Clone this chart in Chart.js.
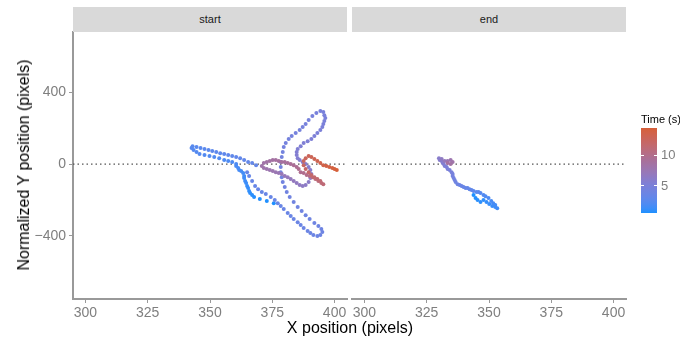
<!DOCTYPE html>
<html>
<head>
<meta charset="utf-8">
<script src="https://cdn.jsdelivr.net/npm/chart.js@4"></script>
<style>
body { margin: 0; background: #fff; font-family: "Liberation Sans", Arial, sans-serif; }
#wrap { position: relative; width: 680px; height: 341px; overflow: hidden; background: #fff; }
canvas { position: absolute; left: 0; top: 0; }
.strip { position: absolute; top: 7px; height: 25px; line-height: 25px; background: #d9d9d9; color: #1a1a1a; font-size: 11px; text-align: center; }
.title { position: absolute; color: #000; font-size: 16px; white-space: nowrap; }
.legtxt { position: absolute; font-size: 13px; color: #7f7f7f; }
</style>
</head>
<body>
<div id="wrap">
  <canvas id="cStart" width="680" height="341"></canvas>
  <canvas id="cEnd" width="680" height="341"></canvas>
  <div class="strip" id="s0" style="left:73px;width:274px"></div>
  <div class="strip" id="s1" style="left:352px;width:274px"></div>
  <div class="title" style="left:0;width:700px;text-align:center;top:319px">X position (pixels)</div>
  <div class="title" style="left:24px;top:165px;transform:translate(-50%,-50%) rotate(-90deg)">Normalized Y position (pixels)</div>
  <div id="legend"></div>
</div>
<script>
const xTicks = [300, 325, 350, 375, 400];
const yTicks = [-400, 0, 400];
const timeTicks = [5, 10];
const panels = ['start', 'end'];

// start panel trajectory
const startX = [375.6, 372.8, 370.0, 367.7,
  366.9, 366.1, 365.7, 365.3, 364.9, 364.5, 364.1, 363.7, 363.7, 363.3, 362.5, 361.7, 361.3, 360.5,
  360.5, 358.9, 357.3, 355.7, 353.7, 351.7, 349.8, 347.8, 345.8, 344.6, 343.4, 342.6,
  343.0, 344.6, 346.2, 347.8, 349.4, 350.9, 352.5, 354.1, 355.7, 357.3, 358.9, 360.5, 362.1, 363.7, 365.3, 366.9, 368.5,
  364.9, 365.7, 366.9, 368.1, 369.3, 370.8, 372.4, 374.4, 376.0, 377.2, 378.4, 379.6, 381.2, 382.4, 383.6, 385.2, 386.4, 387.6, 389.2, 390.3, 391.5, 393.1, 394.3, 395.1,
  394.7, 393.5, 391.9, 390.0, 388.4, 386.8, 385.2, 383.6, 382.0, 380.8, 380.0, 379.2, 378.8, 378.4,
  378.4, 378.4, 378.8, 379.2, 379.6, 380.4, 381.6, 382.8, 384.4, 386.0, 387.2, 388.4, 389.6, 391.1, 392.7, 394.3,
  395.5, 395.9, 396.3, 395.9, 395.5, 395.1, 394.3, 393.1, 391.9, 390.7, 389.2, 387.6, 386.4, 385.2, 384.8, 384.8, 385.2, 386.0, 387.2, 388.4, 389.6, 390.3,
  390.7, 390.3, 389.6, 388.4, 387.2, 386.0, 384.8, 383.6, 382.4, 381.2, 380.0, 378.8, 377.6, 376.4, 375.2, 374.0, 372.8, 371.6, 370.8, 371.6, 372.8, 374.0, 375.2, 376.4, 377.6, 378.8, 380.0, 381.2, 382.4, 383.6, 384.8, 385.6, 386.4,
  387.6, 388.8, 390.0, 391.1, 392.3, 393.5, 394.7, 395.5,
  394.3, 393.1, 391.9, 390.7, 389.6, 388.4, 387.6, 387.6, 388.4, 389.6, 390.7, 391.9, 393.1, 394.3, 395.5, 396.7, 397.9, 399.1, 400.0, 400.9];
const startY = [-218, -206, -195, -184,
  -173, -162, -151, -134, -123, -106, -95, -78, -67, -50, -39, -33, -22, -11,
  0, 11, 17, 22, 33, 39, 45, 50, 56, 67, 78, 89,
  100, 95, 89, 84, 78, 73, 67, 61, 56, 50, 45, 39, 33, 22, 11, 6, -6,
  -45, -67, -95, -123, -140, -156, -167, -184, -201, -218, -234, -251, -273, -290, -307, -324, -340, -357, -374, -385, -396, -402, -396, -379,
  -363, -346, -329, -307, -285, -262, -240, -212, -184, -156, -128, -100, -73, -45,
  -17, 11, 39, 67, 95, 117, 140, 156, 173, 190, 207, 223, 246, 268, 285, 296,
  290, 273, 257, 240, 223, 207, 190, 173, 156, 140, 128, 117, 100, 84, 67, 50, 33, 22, 11, 0, -17, -33,
  -56, -78, -100, -117, -123, -117, -106, -95, -84, -73, -67, -56, -50, -45, -39, -33, -28, -22, -11, 6, 11, 17, 22, 22, 17, 11, 11, 6, 0, -6, -17, -28, -45,
  -50, -61, -67, -73, -84, -95, -106, -112,
  -95, -84, -73, -61, -45, -28, -6, 17, 33, 45, 39, 28, 17, 6, -6, -11, -17, -22, -28, -33];
const startT = [0.5, 0.55, 0.6, 0.65,
  0.7, 0.8, 0.9, 1.0, 1.1, 1.2, 1.3, 1.35, 1.4, 1.5, 1.55, 1.6, 1.7, 1.8,
  1.85, 1.9, 1.95, 2.0, 2.05, 2.1, 2.15, 2.2, 2.25, 2.3, 2.35, 2.4,
  2.45, 2.5, 2.55, 2.6, 2.65, 2.7, 2.75, 2.8, 2.85, 2.9, 2.95, 3.0, 3.05, 3.1, 3.15, 3.2, 3.25,
  3.3, 3.325, 3.35, 3.375, 3.4, 3.425, 3.45, 3.475, 3.5, 3.525, 3.55, 3.575, 3.6, 3.625, 3.65, 3.675, 3.7, 3.725, 3.75, 3.775, 3.8, 3.825, 3.85, 3.875,
  3.9, 3.93, 3.96, 3.99, 4.02, 4.05, 4.08, 4.11, 4.14, 4.17, 4.2, 4.23, 4.26, 4.29,
  4.32, 4.35, 4.38, 4.41, 4.44, 4.47, 4.5, 4.53, 4.56, 4.59, 4.62, 4.65, 4.68, 4.71, 4.74, 4.77,
  4.8, 4.85, 4.9, 4.95, 5.0, 5.05, 5.1, 5.15, 5.2, 5.25, 5.3, 5.35, 5.4, 5.45, 5.5, 5.55, 5.6, 5.65, 5.7, 5.75, 5.8, 5.85,
  5.95, 6.07, 6.19, 6.31, 6.43, 6.55, 6.67, 6.79, 6.91, 7.03, 7.15, 7.27, 7.39, 7.51, 7.63, 7.75, 7.87, 7.99, 8.11, 8.23, 8.35, 8.47, 8.59, 8.71, 8.83, 8.95, 9.07, 9.19, 9.31, 9.43, 9.55, 9.67, 9.79,
  9.9, 10.1, 10.3, 10.5, 10.7, 10.9, 11.0, 11.2,
  11.3, 11.5, 11.65, 11.8, 12.0, 12.15, 12.3, 12.5, 12.65, 12.8, 13.0, 13.15, 13.3, 13.5, 13.65, 13.8, 14.0, 14.15, 14.3, 14.5];

// end panel trajectory
const endX = [343.8, 344.6, 345.4, 346.6, 347.8, 349.0, 350.1, 351.3, 352.5, 353.3,
  352.5, 351.7, 350.9, 349.8, 348.6, 347.8, 346.6, 345.8, 345.0, 343.8, 343.0, 342.2, 341.4, 340.6, 339.8, 339.0, 338.2, 337.4, 336.6, 336.2, 335.8, 335.4, 335.4, 335.0, 334.2, 333.4, 333.0, 332.2, 331.8, 331.4, 331.0, 330.2, 329.9,
  331.0, 332.2, 333.4, 334.6, 335.4, 334.6, 333.4];
const endY = [-173, -190, -201, -212, -201, -212, -223, -234, -240, -246,
  -229, -218, -206, -190, -179, -173, -162, -156, -156, -151, -145, -140, -134, -134, -128, -123, -117, -112, -100, -89, -78, -67, -56, -45, -33, -28, -17, -11, 0, 6, 17, 22, 33,
  28, 17, 17, 22, 11, 0, 6];
const endT = [0.5, 0.6, 0.7, 0.8, 0.9, 1.0, 1.1, 1.2, 1.3, 1.4,
  1.5, 1.64, 1.78, 1.92, 2.06, 2.2, 2.34, 2.48, 2.62, 2.76, 2.9, 3.04, 3.18, 3.32, 3.46, 3.6, 3.74, 3.88, 4.02, 4.16, 4.3, 4.44, 4.58, 4.72, 4.86, 5.0, 5.14, 5.28, 5.42, 5.56, 5.7, 5.84, 5.98,
  6.5, 7.0, 7.4, 7.8, 8.2, 8.5, 8.8];

const xMin = 295, xMax = 405;
const yMin = -753, yMax = 737;
const FONT = '"Liberation Sans", Arial, sans-serif';

// colour ramp, interpolated in Lab space
const rampStops = [[0, '#1e90ff'], [0.33, '#7c80d8'], [0.62, '#a8709a'], [1, '#d6603a']];
function rgbToLab(h) {
  const lin = c => { c /= 255; return c <= 0.04045 ? c / 12.92 : Math.pow((c + 0.055) / 1.055, 2.4); };
  const [r, g, b] = [1, 3, 5].map(i => lin(parseInt(h.substr(i, 2), 16)));
  const X = (r * 0.4124 + g * 0.3576 + b * 0.1805) / 0.95047;
  const Y = r * 0.2126 + g * 0.7152 + b * 0.0722;
  const Z = (r * 0.0193 + g * 0.1192 + b * 0.9505) / 1.08883;
  const f = t => t > 0.008856 ? Math.cbrt(t) : 7.787 * t + 16 / 116;
  return [116 * f(Y) - 16, 500 * (f(X) - f(Y)), 200 * (f(Y) - f(Z))];
}
function labToRgb([L, a, b]) {
  const fy = (L + 16) / 116, fx = fy + a / 500, fz = fy - b / 200;
  const fi = t => t * t * t > 0.008856 ? t * t * t : (t - 16 / 116) / 7.787;
  const X = fi(fx) * 0.95047, Y = fi(fy), Z = fi(fz) * 1.08883;
  const R = X * 3.2406 - Y * 1.5372 - Z * 0.4986;
  const G = -X * 0.9689 + Y * 1.8758 + Z * 0.0415;
  const B = X * 0.0557 - Y * 0.2040 + Z * 1.0570;
  const g = c => { c = c <= 0.0031308 ? 12.92 * c : 1.055 * Math.pow(c, 1 / 2.4) - 0.055; return Math.round(Math.max(0, Math.min(1, c)) * 255); };
  return [g(R), g(G), g(B)];
}
const rampLab = rampStops.map(s => [s[0], rgbToLab(s[1])]);
const tMin = Math.min(...startT, ...endT), tMax = Math.max(...startT, ...endT);
function timeColor(t) {
  const f = Math.max(0, Math.min(1, (t - tMin) / (tMax - tMin)));
  let i = 0;
  while (i < rampLab.length - 2 && f > rampLab[i + 1][0]) i++;
  const [f0, a] = rampLab[i], [f1, b] = rampLab[i + 1];
  const k = (f - f0) / (f1 - f0);
  const c = labToRgb(a.map((v, j) => v + (b[j] - v) * k));
  return 'rgb(' + c.join(',') + ')';
}

function makeChart(id, xs, ys, ts, showY, pad) {
  const pts = xs.map((x, i) => ({ x: x, y: ys[i], t: ts[i] }));
  return new Chart(document.getElementById(id), {
    type: 'scatter',
    data: {
      datasets: [
        { data: pts, pointRadius: 2, pointBorderWidth: 0, pointHoverRadius: 0,
          pointBackgroundColor: ctx => timeColor(ctx.raw.t), order: 1 },
        { data: [{ x: xMin, y: 0 }, { x: xMax, y: 0 }], showLine: true, borderColor: '#555',
          borderWidth: 1.2, borderDash: [1.5, 3], pointRadius: 0, order: 2 }
      ]
    },
    options: {
      responsive: false,
      animation: false,
      devicePixelRatio: 1,
      layout: { padding: pad },
      plugins: { legend: { display: false }, tooltip: { enabled: false } },
      scales: {
        x: {
          type: 'linear', min: xMin, max: xMax,
          afterBuildTicks: s => { s.ticks = xTicks.map(v => ({ value: v })); },
          afterFit: s => { s.height = 42; },
          ticks: { color: '#7f7f7f', font: { size: 14, family: FONT }, padding: 2, maxRotation: 0, autoSkip: false },
          grid: { drawOnChartArea: false, tickLength: 4, color: '#999', lineWidth: 1 },
          border: { color: '#999', width: 2 }
        },
        y: {
          type: 'linear', min: yMin, max: yMax, display: showY,
          afterBuildTicks: s => { s.ticks = yTicks.map(v => ({ value: v })); },
          afterFit: s => { s.width = showY ? 73 : 0; },
          ticks: { color: '#7f7f7f', font: { size: 14, family: FONT }, padding: 3, callback: v => v < 0 ? '\u2212' + Math.abs(v) : v },
          grid: { drawOnChartArea: false, tickLength: 4, color: '#999', lineWidth: 1 },
          border: { color: '#999', width: 2 }
        }
      }
    }
  });
}

makeChart('cStart', startX, startY, startT, true, { left: 0, right: 333, top: 32, bottom: 0 });
makeChart('cEnd', endX, endY, endT, false, { left: 352, right: 54, top: 32, bottom: 0 });

document.getElementById('s0').textContent = panels[0];
document.getElementById('s1').textContent = panels[1];

// colour bar legend
const barTop = 128, barH = 85, barLeft = 641, barW = 16;
const stops = [];
for (let i = 0; i <= 20; i++) {
  const f = i / 20;
  stops.push(timeColor(tMin + f * (tMax - tMin)) + ' ' + (f * 100) + '%');
}
let html = '<div style="position:absolute;left:' + barLeft + 'px;top:113px;font-size:11px;color:#000;white-space:nowrap">Time (s)</div>';
html += '<div style="position:absolute;left:' + barLeft + 'px;top:' + barTop + 'px;width:' + barW + 'px;height:' + barH + 'px;background:linear-gradient(to top,' + stops.join(',') + ')"></div>';
timeTicks.forEach(v => {
  const y = barTop + (tMax - v) / (tMax - tMin) * barH;
  html += '<div style="position:absolute;left:' + barLeft + 'px;top:' + (y - 0.5) + 'px;width:3px;height:1px;background:#fff"></div>';
  html += '<div style="position:absolute;left:' + (barLeft + barW - 3) + 'px;top:' + (y - 0.5) + 'px;width:3px;height:1px;background:#fff"></div>';
  html += '<div class="legtxt" style="left:' + (barLeft + barW + 4) + 'px;top:' + (y - 8) + 'px">' + v + '</div>';
});
document.getElementById('legend').innerHTML = html;
</script>
</body>
</html>
